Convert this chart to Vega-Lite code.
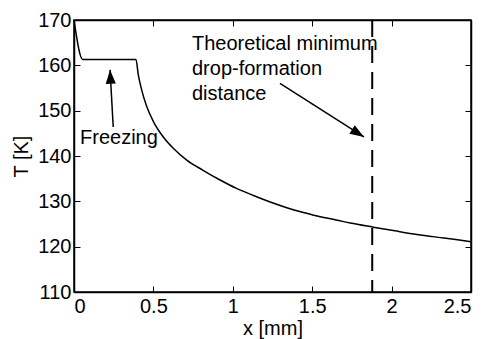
{
  "$schema": "https://vega.github.io/schema/vega-lite/v6.json",
  "width": 397,
  "height": 272,
  "autosize": {"type": "none"},
  "padding": {"left": 74, "top": 20, "right": 22, "bottom": 47},
  "background": "white",
  "config": {
    "font": "Liberation Sans",
    "view": {"stroke": "black", "strokeWidth": 1.5},
    "axis": {
      "grid": false,
      "domainColor": "black",
      "domainWidth": 1.5,
      "tickColor": "black",
      "tickWidth": 1,
      "tickSize": -6,
      "labelFont": "Liberation Sans",
      "labelFontSize": 20,
      "labelColor": "black",
      "titleFont": "Liberation Sans",
      "titleFontSize": 20,
      "titleFontWeight": "normal",
      "titleColor": "black"
    }
  },
  "datasets": {
    "curve": [
      {"x": 0, "T": 170},
      {"x": 0.055, "T": 161.3},
      {"x": 0.39, "T": 161.3},
      {"x": 0.405, "T": 157.9},
      {"x": 0.426, "T": 154.6},
      {"x": 0.458, "T": 150.9},
      {"x": 0.50, "T": 147.6},
      {"x": 0.56, "T": 144.3},
      {"x": 0.625, "T": 141.7},
      {"x": 0.71, "T": 139.1},
      {"x": 0.81, "T": 136.9},
      {"x": 0.92, "T": 134.7},
      {"x": 1.02, "T": 132.9},
      {"x": 1.13, "T": 131.3},
      {"x": 1.24, "T": 129.8},
      {"x": 1.34, "T": 128.6},
      {"x": 1.45, "T": 127.5},
      {"x": 1.55, "T": 126.6},
      {"x": 1.65, "T": 125.9},
      {"x": 1.74, "T": 125.2},
      {"x": 1.885, "T": 124.3},
      {"x": 2.02, "T": 123.5},
      {"x": 2.16, "T": 122.7},
      {"x": 2.33, "T": 121.9},
      {"x": 2.5, "T": 121.1}
    ],
    "dropline": [{"x": 1.878}],
    "labels": [
      {"x": 0.038, "T": 142.6, "label": "Freezing"},
      {"x": 0.743, "T": 163.4, "label": "Theoretical minimum"},
      {"x": 0.743, "T": 157.9, "label": "drop-formation"},
      {"x": 0.743, "T": 152.3, "label": "distance"}
    ],
    "arrowFreeze": [{"x": 0.247, "T": 146.4, "x2": 0.227, "T2": 159.0}],
    "arrowDrop": [{"x": 1.297, "T": 156.0, "x2": 1.826, "T2": 144.2}]
  },
  "layer": [
    {
      "data": {"name": "curve"},
      "mark": {"type": "line", "color": "black", "strokeWidth": 1.5, "interpolate": "monotone"},
      "encoding": {
        "x": {"field": "x", "type": "quantitative",
              "scale": {"domain": [0, 2.5], "nice": false, "zero": false},
              "axis": {"orient": "bottom", "values": [0, 0.5, 1, 1.5, 2, 2.5], "format": "~g", "title": "x [mm]", "labelPadding": 10, "titlePadding": 2}},
        "y": {"field": "T", "type": "quantitative",
              "scale": {"domain": [110, 170], "nice": false, "zero": false},
              "axis": {"orient": "left", "values": [110, 120, 130, 140, 150, 160, 170], "title": "T [K]", "labelPadding": 9, "titlePadding": 6}}
      }
    },
    {
      "data": {"name": "dropline"},
      "mark": {"type": "rule", "color": "black", "strokeWidth": 2, "strokeDash": [17, 9]},
      "encoding": {
        "x": {"field": "x", "type": "quantitative",
              "axis": {"orient": "top", "values": [0, 0.5, 1, 1.5, 2, 2.5], "labels": false, "title": null}}
      }
    },
    {
      "data": {"name": "arrowDrop"},
      "mark": {"type": "rule", "color": "black", "strokeWidth": 1.5},
      "encoding": {
        "x": {"field": "x", "type": "quantitative", "axis": null},
        "y": {"field": "T", "type": "quantitative",
              "axis": {"orient": "right", "values": [110, 120, 130, 140, 150, 160, 170], "labels": false, "title": null}},
        "x2": {"field": "x2"},
        "y2": {"field": "T2"}
      }
    },
    {
      "data": {"name": "arrowFreeze"},
      "mark": {"type": "rule", "color": "black", "strokeWidth": 1.5},
      "encoding": {
        "x": {"field": "x", "type": "quantitative", "axis": null},
        "y": {"field": "T", "type": "quantitative", "axis": null},
        "x2": {"field": "x2"},
        "y2": {"field": "T2"}
      }
    },
    {
      "data": {"name": "arrowFreeze"},
      "mark": {"type": "point", "shape": "M0,0L0.36,1L-0.36,1Z", "filled": true, "color": "black", "opacity": 1, "size": 784, "angle": -3},
      "encoding": {
        "x": {"field": "x2", "type": "quantitative", "axis": null},
        "y": {"field": "T2", "type": "quantitative", "axis": null}
      }
    },
    {
      "data": {"name": "arrowDrop"},
      "mark": {"type": "point", "shape": "M0,0L0.36,1L-0.36,1Z", "filled": true, "color": "black", "opacity": 1, "size": 784, "angle": 122},
      "encoding": {
        "x": {"field": "x2", "type": "quantitative", "axis": null},
        "y": {"field": "T2", "type": "quantitative", "axis": null}
      }
    },
    {
      "data": {"name": "labels"},
      "mark": {"type": "text", "align": "left", "baseline": "alphabetic", "fontSize": 20, "font": "Liberation Sans", "color": "black"},
      "encoding": {
        "x": {"field": "x", "type": "quantitative", "axis": null},
        "y": {"field": "T", "type": "quantitative", "axis": null},
        "text": {"field": "label"}
      }
    }
  ],
  "resolve": {"axis": {"x": "independent", "y": "independent"}}
}
